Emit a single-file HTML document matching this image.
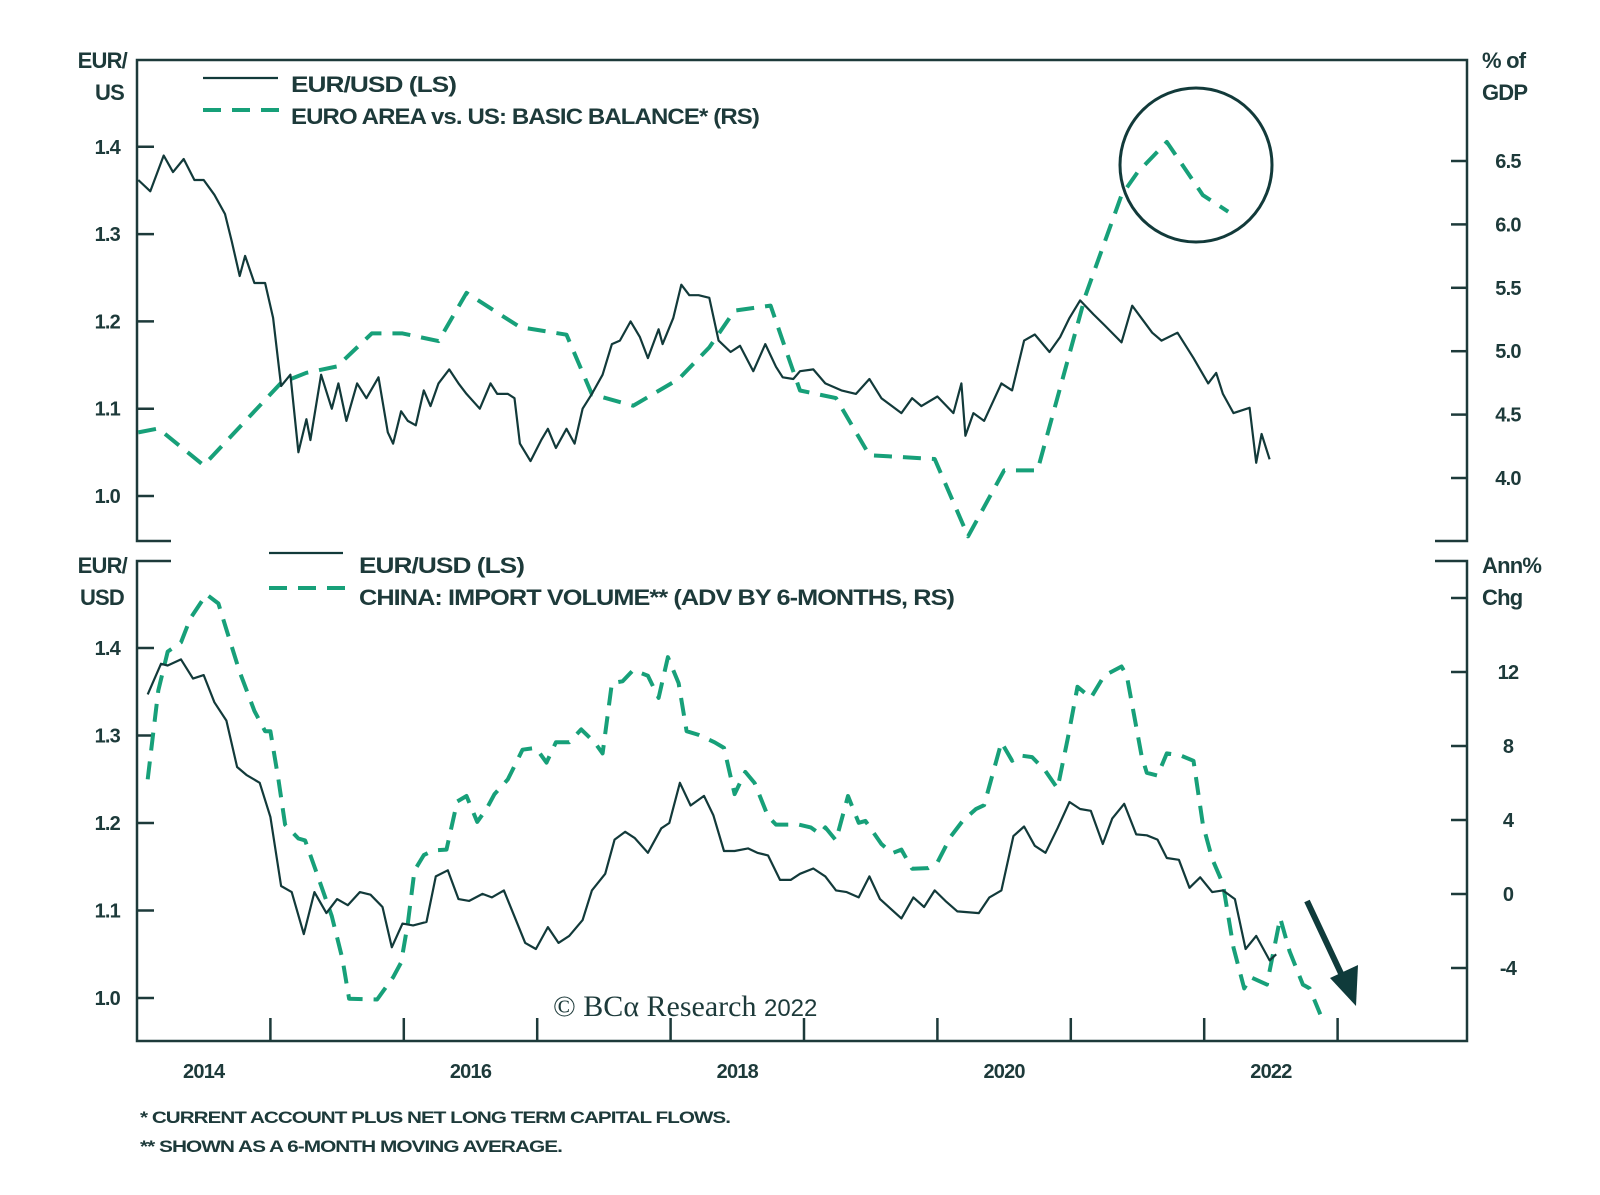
<!DOCTYPE html>
<html><head><meta charset="utf-8"><style>
html,body{margin:0;padding:0;background:#fff;}
svg{display:block;font-family:"Liberation Sans",sans-serif;}
.t{fill:#1d3a3a;font-weight:bold;letter-spacing:-0.8px;}
</style></head>
<body>
<svg id="chart" width="1600" height="1195" viewBox="0 0 1600 1195">
<g id="frames" fill="none" stroke="#1d3a3a" stroke-width="2.5">
 <path d="M171,541 H137 V60 H1467 V541 H1435"/>
 <path d="M171,561 H137 V1041 H1467 V561 H1435"/>
</g>
<g id="ticks" stroke="#1d3a3a" stroke-width="2.5"></g>
<g id="labels"></g>
<g id="series"></g>
<text class="t" x="127" y="68" text-anchor="end" font-size="22">EUR/</text>
<text class="t" x="124" y="100" text-anchor="end" font-size="22">US</text>
<text class="t" x="1482" y="68" font-size="22">% of</text>
<text class="t" x="1482" y="100" font-size="22">GDP</text>
<text class="t" x="127" y="573" text-anchor="end" font-size="22">EUR/</text>
<text class="t" x="124" y="605" text-anchor="end" font-size="22">USD</text>
<text class="t" x="1482" y="573" font-size="22">Ann%</text>
<text class="t" x="1482" y="605" font-size="22">Chg</text>
<g>
 <line x1="203" y1="78" x2="278" y2="78" stroke="#123a3a" stroke-width="2.2"/>
 <text class="t" x="291" y="92" font-size="22" textLength="165" lengthAdjust="spacingAndGlyphs">EUR/USD (LS)</text>
 <line x1="203" y1="110" x2="280" y2="110" stroke="#17a079" stroke-width="4" stroke-dasharray="18 11"/>
 <text class="t" x="291" y="124" font-size="22" textLength="468" lengthAdjust="spacingAndGlyphs">EURO AREA vs. US: BASIC BALANCE* (RS)</text>
</g>
<g>
 <line x1="269" y1="553" x2="343" y2="553" stroke="#123a3a" stroke-width="2.2"/>
 <text class="t" x="359" y="573" font-size="22" textLength="165" lengthAdjust="spacingAndGlyphs">EUR/USD (LS)</text>
 <line x1="269" y1="588" x2="346" y2="588" stroke="#17a079" stroke-width="4" stroke-dasharray="18 11"/>
 <text class="t" x="359" y="605" font-size="22" textLength="595" lengthAdjust="spacingAndGlyphs">CHINA: IMPORT VOLUME** (ADV BY 6-MONTHS, RS)</text>
</g>
<ellipse cx="1196" cy="165" rx="76" ry="77" fill="none" stroke="#123a3a" stroke-width="3"/>
<g>
 <line x1="1307" y1="901" x2="1345" y2="982" stroke="#0f3b3b" stroke-width="6"/>
 <polygon points="1356,1006 1330,978 1358,965" fill="#0f3b3b"/>
</g>
<text x="553" y="1016" font-family="'Liberation Serif',serif" font-size="30" fill="#1d3a3a">© BCα Research <tspan font-family="'Liberation Sans',sans-serif" font-size="24">2022</tspan></text>
<text class="t" x="140" y="1123" font-size="17" font-weight="normal" textLength="590" lengthAdjust="spacingAndGlyphs">*  CURRENT ACCOUNT PLUS NET LONG TERM CAPITAL FLOWS.</text>
<text class="t" x="140" y="1152" font-size="17" font-weight="normal" textLength="422" lengthAdjust="spacingAndGlyphs">** SHOWN AS A 6-MONTH MOVING AVERAGE.</text>
</svg>
<script>
// ---- data (years since 2014) ----
const BASE_YEAR = 2014;
const topFxYear = [0.01,0.10,0.20,0.27,0.35,0.43,0.50,0.58,0.66,0.71,0.77,0.81,0.88,0.96,1.02,1.08,1.15,1.21,1.27,1.30,1.38,1.46,1.51,1.57,1.65,1.72,1.81,1.88,1.92,1.98,2.03,2.09,2.15,2.20,2.26,2.34,2.41,2.47,2.57,2.65,2.70,2.78,2.83,2.87,2.95,3.03,3.08,3.14,3.22,3.28,3.34,3.41,3.49,3.56,3.62,3.70,3.77,3.83,3.91,3.94,4.02,4.08,4.14,4.21,4.29,4.36,4.45,4.52,4.62,4.71,4.79,4.84,4.92,4.97,5.07,5.16,5.28,5.39,5.49,5.58,5.73,5.81,5.88,6.00,6.12,6.18,6.21,6.27,6.35,6.48,6.56,6.65,6.73,6.84,6.92,6.99,7.07,7.17,7.25,7.38,7.46,7.61,7.68,7.80,7.92,8.03,8.09,8.14,8.22,8.34,8.39,8.43,8.49];
const topFxValue = [1.362,1.349,1.39,1.371,1.386,1.362,1.362,1.345,1.323,1.292,1.252,1.275,1.244,1.244,1.204,1.126,1.139,1.05,1.088,1.064,1.139,1.1,1.129,1.086,1.129,1.112,1.136,1.073,1.06,1.097,1.086,1.081,1.121,1.103,1.129,1.145,1.129,1.117,1.1,1.129,1.117,1.117,1.112,1.06,1.04,1.064,1.077,1.055,1.077,1.06,1.1,1.117,1.139,1.174,1.178,1.2,1.182,1.158,1.191,1.174,1.204,1.242,1.23,1.23,1.227,1.178,1.165,1.172,1.143,1.174,1.148,1.136,1.134,1.143,1.145,1.129,1.121,1.117,1.134,1.112,1.095,1.112,1.103,1.114,1.095,1.129,1.069,1.095,1.086,1.129,1.121,1.178,1.185,1.165,1.182,1.204,1.224,1.208,1.196,1.176,1.218,1.187,1.178,1.187,1.158,1.129,1.141,1.117,1.095,1.101,1.038,1.071,1.042,1.016];
const balanceYear = [0.01,0.16,0.50,1.08,1.27,1.50,1.76,1.99,2.26,2.47,2.87,3.22,3.41,3.72,4.06,4.29,4.48,4.75,4.90,4.97,5.24,5.49,5.98,6.23,6.50,6.75,7.11,7.38,7.50,7.72,7.99,8.18];
const balanceValue = [4.36,4.39,4.10,4.75,4.83,4.88,5.14,5.14,5.08,5.46,5.19,5.13,4.66,4.57,4.78,5.03,5.32,5.36,4.9,4.69,4.63,4.18,4.15,3.54,4.06,4.06,5.44,6.23,6.41,6.65,6.23,6.10];
const botFxYear = [0.08,0.18,0.23,0.33,0.42,0.50,0.58,0.67,0.75,0.82,0.92,1.00,1.08,1.16,1.25,1.33,1.42,1.50,1.58,1.67,1.75,1.84,1.91,1.99,2.07,2.17,2.24,2.33,2.41,2.49,2.59,2.66,2.75,2.83,2.91,2.99,3.08,3.16,3.24,3.34,3.41,3.51,3.58,3.66,3.73,3.83,3.93,3.99,4.07,4.15,4.25,4.32,4.40,4.48,4.58,4.65,4.73,4.82,4.90,4.97,5.07,5.16,5.24,5.32,5.41,5.49,5.57,5.73,5.82,5.90,5.98,6.06,6.15,6.31,6.39,6.48,6.57,6.65,6.73,6.81,6.90,6.99,7.07,7.15,7.24,7.31,7.40,7.49,7.57,7.65,7.72,7.81,7.89,7.97,8.06,8.14,8.23,8.31,8.39,8.49,8.54];
const botFxValue = [1.347,1.382,1.380,1.387,1.365,1.369,1.338,1.317,1.264,1.255,1.246,1.207,1.128,1.121,1.073,1.121,1.097,1.113,1.106,1.121,1.118,1.104,1.058,1.085,1.083,1.087,1.139,1.146,1.113,1.111,1.119,1.115,1.123,1.093,1.063,1.056,1.081,1.063,1.071,1.089,1.123,1.142,1.181,1.19,1.183,1.166,1.194,1.2,1.246,1.22,1.231,1.209,1.168,1.168,1.171,1.166,1.163,1.135,1.135,1.142,1.148,1.139,1.123,1.121,1.115,1.139,1.113,1.091,1.115,1.104,1.123,1.111,1.099,1.097,1.115,1.123,1.185,1.196,1.174,1.166,1.194,1.224,1.216,1.214,1.176,1.205,1.222,1.187,1.186,1.181,1.16,1.158,1.126,1.138,1.121,1.123,1.113,1.056,1.071,1.043,1.05];
const importYear = [0.08,0.16,0.23,0.33,0.40,0.52,0.61,0.67,0.77,0.88,0.96,1.00,1.06,1.11,1.21,1.26,1.34,1.46,1.54,1.59,1.80,1.92,1.98,2.03,2.08,2.15,2.22,2.32,2.40,2.47,2.55,2.62,2.68,2.78,2.89,2.99,3.07,3.14,3.24,3.33,3.43,3.49,3.56,3.64,3.72,3.83,3.91,3.98,4.06,4.12,4.21,4.33,4.40,4.48,4.56,4.63,4.73,4.79,4.96,5.05,5.12,5.16,5.24,5.33,5.41,5.46,5.58,5.66,5.73,5.81,5.93,6.00,6.10,6.19,6.29,6.35,6.48,6.56,6.61,6.71,6.81,6.90,6.98,7.05,7.15,7.25,7.38,7.42,7.53,7.57,7.65,7.72,7.82,7.92,7.99,8.06,8.14,8.22,8.30,8.35,8.47,8.57,8.64,8.74,8.79,8.87];
const importValue = [6.2,11.0,13.1,13.6,14.9,16.2,15.7,14.3,12.0,9.9,8.8,8.8,6.2,3.75,3.0,2.9,1.27,-1.2,-3.5,-5.66,-5.7,-4.5,-3.7,-1.6,1.27,2.1,2.35,2.4,5.0,5.3,3.9,4.6,5.4,6.2,7.8,7.9,7.1,8.2,8.2,8.9,8.2,7.6,11.4,11.5,12.1,11.8,10.6,12.8,11.4,8.8,8.6,8.2,7.9,5.4,6.6,6.0,4.2,3.75,3.75,3.6,3.25,3.6,2.9,5.3,3.85,3.95,2.7,2.2,2.4,1.37,1.4,1.7,3.1,3.95,4.6,4.8,8.2,7.2,7.5,7.4,6.65,5.7,8.5,11.2,10.6,11.8,12.3,11.8,7.5,6.55,6.4,7.6,7.5,7.2,3.75,1.9,0.55,-2.9,-5.1,-4.5,-4.9,-1.3,-3.1,-4.9,-5.1,-6.5];
const topLeftTicks = ["1.0","1.1","1.2","1.3","1.4"];
const topRightTicks = ["4.0","4.5","5.0","5.5","6.0","6.5"];
const botLeftTicks = ["1.0","1.1","1.2","1.3","1.4"];
const botRightTicks = ["-4","0","4","8","12","16"];
const yearLabels = ["2014","2016","2018","2020","2022"];

// ---- axes ----
const X0 = 137, PX_PER_YEAR = 133.4;
const x = t => X0 + t * PX_PER_YEAR;
const yTopL = v => 496 - (v - 1.0) * 873;
const yTopR = v => 478 - (v - 4.0) * 126.8;
const yBotL = v => 998 - (v - 1.0) * 875;
const yBotR = v => 894 - v * 18.5;
const NS = "http://www.w3.org/2000/svg";
const mk = (tag, attrs, parent) => { const e = document.createElementNS(NS, tag); for (const k in attrs) e.setAttribute(k, attrs[k]); parent.appendChild(e); return e; };
const ticksG = document.getElementById('ticks'), labelsG = document.getElementById('labels'), seriesG = document.getElementById('series');

function leftAxis(ticks, fy, name) {
  ticks.forEach(s => { const y = fy(parseFloat(s));
    const l = mk('line', {x1: 137, x2: 154, y1: y, y2: y}, ticksG);
    
    
    const t = mk('text', {x: 120, y: y + 7, 'text-anchor': 'end', 'font-size': 20, class: 't'}, labelsG);
    t.textContent = s;
    
    
  });
}
function rightAxis(ticks, fy, name, hide) {
  ticks.forEach(s => { const y = fy(parseFloat(s));
    const l = mk('line', {x1: 1451, x2: 1467, y1: y, y2: y}, ticksG);
    
    
    if (hide && hide.includes(s)) return;
    const t = mk('text', {x: 1508, y: y + 7, 'text-anchor': 'middle', 'font-size': 20, class: 't'}, labelsG);
    t.textContent = s;
    
    
  });
}
leftAxis(topLeftTicks, yTopL, 'top-left-axis');
rightAxis(topRightTicks, yTopR, 'top-right-axis');
leftAxis(botLeftTicks, yBotL, 'bottom-left-axis');
rightAxis(botRightTicks, yBotR, 'bottom-right-axis', ["16"]);
for (let k = 1; k <= 9; k++) {
  const l = mk('line', {x1: x(k), x2: x(k), y1: 1041, y2: 1018}, ticksG);
  
  
}
yearLabels.forEach(s => {
  const t = mk('text', {x: x(parseInt(s) - BASE_YEAR + 0.5), y: 1078, 'text-anchor': 'middle', 'font-size': 20, class: 't'}, labelsG);
  t.textContent = s;
  
  
});

function line(xs, vs, fy, style, name) {
  const d = xs.map((t, i) => (i ? 'L' : 'M') + x(t).toFixed(1) + ',' + fy(vs[i]).toFixed(1)).join(' ');
  const p = mk('path', Object.assign({d: d, fill: 'none', 'stroke-linejoin': 'round'}, style), seriesG);
  
  
}
const dark = {stroke: '#123a3a', 'stroke-width': 2.2};
const green = {stroke: '#17a079', 'stroke-width': 4, 'stroke-dasharray': '18 11'};
line(balanceYear, balanceValue, yTopR, green, 'basic-balance-line');
line(topFxYear, topFxValue, yTopL, dark, 'top-eurusd-line');
line(importYear, importValue, yBotR, green, 'china-import-line');
line(botFxYear, botFxValue, yBotL, dark, 'bottom-eurusd-line');
</script>
</body></html>
